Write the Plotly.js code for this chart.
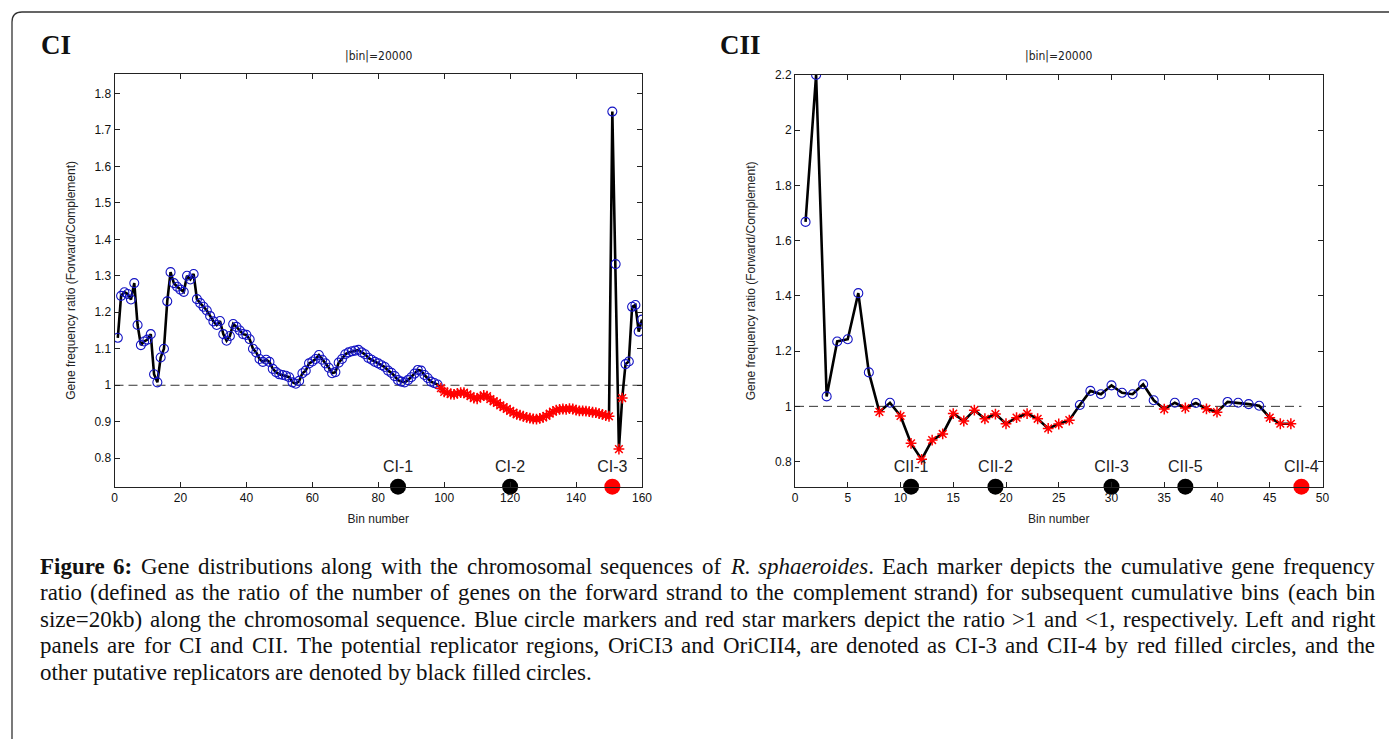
<!DOCTYPE html>
<html><head><meta charset="utf-8">
<script src="https://cdn.plot.ly/plotly-3.0.1.min.js"></script>
<style>html,body{margin:0;padding:0;background:#fff;}#chart{width:1389px;height:739px;}</style>
</head><body><div id="chart"></div>
<script>
// ---------------- DATA ----------------
// CI: cumulative gene frequency ratio per bin (bins 1..160)
const ciValues = [
 1.13, 1.245, 1.255, 1.25, 1.235, 1.28, 1.165, 1.11, 1.12, 1.125,
 1.14, 1.03, 1.008, 1.076, 1.10, 1.23, 1.31, 1.28, 1.27, 1.262,
 1.256, 1.30, 1.29, 1.305, 1.236, 1.225, 1.215, 1.205, 1.19, 1.175,
 1.165, 1.176, 1.14, 1.122, 1.135, 1.168, 1.16, 1.15, 1.14, 1.138,
 1.126, 1.10, 1.09, 1.072, 1.064, 1.07, 1.064, 1.045, 1.036, 1.03,
 1.028, 1.026, 1.022, 1.008, 1.004, 1.012, 1.033, 1.04, 1.06, 1.065,
 1.072, 1.083, 1.07, 1.06, 1.048, 1.033, 1.036, 1.062, 1.072, 1.085,
 1.09, 1.093, 1.095, 1.097, 1.09, 1.085, 1.075, 1.07, 1.064, 1.06,
 1.055, 1.05, 1.04, 1.034, 1.025, 1.014, 1.01, 1.008, 1.014, 1.022,
 1.032, 1.042, 1.04, 1.028, 1.02, 1.01, 1.006, 1.002, 0.992, 0.982,
 0.98, 0.976, 0.975, 0.978, 0.98, 0.98, 0.975, 0.97, 0.965, 0.963,
 0.968, 0.972, 0.97, 0.962, 0.956, 0.952, 0.945, 0.94, 0.935, 0.93,
 0.925, 0.92, 0.918, 0.915, 0.912, 0.91, 0.908, 0.907, 0.909, 0.912,
 0.916, 0.922, 0.928, 0.932, 0.934, 0.935, 0.934, 0.936, 0.935, 0.932,
 0.93, 0.93, 0.929, 0.928, 0.926, 0.925, 0.922, 0.92, 0.917, 0.915,
 1.75, 1.332, 0.825, 0.965, 1.058, 1.065, 1.215, 1.22, 1.147, 1.18
];
// CII: cumulative gene frequency ratio per bin (bins 1..47)
const ciiValues = [
 1.668, 2.2, 1.036, 1.235, 1.243, 1.41, 1.123, 0.98, 1.013, 0.965,
 0.866, 0.808, 0.878, 0.90, 0.974, 0.947, 0.986, 0.955, 0.972, 0.937,
 0.959, 0.974, 0.955, 0.92, 0.936, 0.95, 1.005, 1.056, 1.044, 1.076,
 1.049, 1.044, 1.08, 1.022, 0.99, 1.013, 0.994, 1.012, 0.991, 0.979,
 1.016, 1.013, 1.008, 1.002, 0.959, 0.937, 0.937
];
// putative replicators
const ciRepBins = [86, 120, 151];
const ciRepLabels = ['CI-1', 'CI-2', 'CI-3'];
const ciRepOri = [false, false, true];
const ciiRepBins = [11, 19, 30, 37, 48];
const ciiRepLabels = ['CII-1', 'CII-2', 'CII-3', 'CII-5', 'CII-4'];
const ciiRepOri = [false, false, false, false, true];
// tick labels
const ciXTicks = [0, 20, 40, 60, 80, 100, 120, 140, 160];
const ciYTicks = [0.8, 0.9, 1, 1.1, 1.2, 1.3, 1.4, 1.5, 1.6, 1.7, 1.8];
const ciYTickText = ['0.8', '0.9', '1', '1.1', '1.2', '1.3', '1.4', '1.5', '1.6', '1.7', '1.8'];
const ciiXTicks = [0, 5, 10, 15, 20, 25, 30, 35, 40, 45, 50];
const ciiYTicks = [0.8, 1, 1.2, 1.4, 1.6, 1.8, 2, 2.2];
const ciiYTickText = ['0.8', '1', '1.2', '1.4', '1.6', '1.8', '2', '2.2'];
// texts
const panelLabels = ['CI', 'CII'];
const binTitle = '|bin|=20000';
const xTitle = 'Bin number';
const yTitle = 'Gene frequency ratio (Forward/Complement)';
const captionLines = [
 '<b>Figure</b> <b>6:</b> Gene distributions along with the chromosomal sequences of <i>R.</i> <i>sphaeroides</i>. Each marker depicts the cumulative gene frequency',
 'ratio (defined as the ratio of the number of genes on the forward strand to the complement strand) for subsequent cumulative bins (each bin',
 'size=20kb) along the chromosomal sequence. Blue circle markers and red star markers depict the ratio >1 and <1, respectively. Left and right',
 'panels are for CI and CII. The potential replicator regions, OriCI3 and OriCII4, are denoted as CI-3 and CII-4 by red filled circles, and the',
 'other putative replicators are denoted by black filled circles.'
];

// ---------------- LAYOUT HELPERS ----------------
const W = 1389, H = 739;
const px = x => x / W;
const py = y => 1 - y / H;
const ciXRange = [0, 160], ciYRange = [0.722, 1.853];
const ciiXRange = [0, 50], ciiYRange = [0.709, 2.2];

const BLUE = '#1414c4', RED = '#ff0000';
const SANS = 'Liberation Sans, Arial, sans-serif';
const tickFont = {family: SANS, size: 12, color: '#111'};

function panelTraces(values, repBins, repLabels, repOri, dashEnd, yMin, xa, ya) {
  const bins = values.map((_, i) => i + 1);
  const blueX = [], blueY = [], redX = [], redY = [];
  values.forEach((v, i) => { if (v >= 1) { blueX.push(bins[i]); blueY.push(v); } else { redX.push(bins[i]); redY.push(v); } });
  return [
    {x: [0, dashEnd], y: [1, 1], mode: 'lines', line: {color: '#333', width: 1, dash: '9px,5px'}, xaxis: xa, yaxis: ya, hoverinfo: 'skip'},
    {x: bins, y: values, mode: 'lines', line: {color: '#000', width: 2.6}, xaxis: xa, yaxis: ya},
    {x: blueX, y: blueY, mode: 'markers', marker: {symbol: 'circle-open', size: 9, color: BLUE, line: {width: 1.1}}, xaxis: xa, yaxis: ya},
    {x: redX, y: redY, mode: 'markers', marker: {symbol: 'asterisk-open', size: 9, color: RED, line: {width: 1.5, color: RED}}, xaxis: xa, yaxis: ya},
    {x: repBins, y: repBins.map(() => yMin), mode: 'markers+text', text: repLabels, textposition: 'top center',
     textfont: {family: SANS, size: 16, color: '#222'},
     marker: {symbol: 'circle', size: 16, color: repOri.map(o => o ? RED : '#000')}, cliponaxis: false, xaxis: xa, yaxis: ya}
  ];
}

const data = [].concat(
  panelTraces(ciValues, ciRepBins, ciRepLabels, ciRepOri, 160, ciYRange[0], 'x', 'y'),
  panelTraces(ciiValues, ciiRepBins, ciiRepLabels, ciiRepOri, 48, ciiYRange[0], 'x2', 'y2')
);

function xAxis(domain, range, ticks) {
  return {domain, range, tickvals: ticks, ticktext: ticks.map(String), ticks: 'inside', ticklen: 5, tickcolor: '#222',
    mirror: 'ticks', showline: true, linecolor: '#222', linewidth: 1, showgrid: false, zeroline: false, tickfont: tickFont,
    title: {text: xTitle, font: {family: SANS, size: 12, color: '#222'}, standoff: 10}, fixedrange: true};
}
function yAxis(domain, range, ticks, text, anchor) {
  return {domain, range, tickvals: ticks, ticktext: text, ticks: 'inside', ticklen: 5, tickcolor: '#222', anchor,
    mirror: 'ticks', showline: true, linecolor: '#222', linewidth: 1, showgrid: false, zeroline: false, tickfont: tickFont,
    title: {text: yTitle, font: {family: SANS, size: 12, color: '#222'}, standoff: 16}, fixedrange: true};
}

const ciDom = [px(114.5), px(642)], ciiDom = [px(795), px(1322.5)];
const layout = {
  width: W, height: H, margin: {l: 0, r: 0, t: 0, b: 0}, showlegend: false,
  paper_bgcolor: '#fff', plot_bgcolor: '#fff',
  xaxis: Object.assign(xAxis(ciDom, ciXRange, ciXTicks), {anchor: 'y'}),
  yaxis: yAxis([py(486.7), py(74)], ciYRange, ciYTicks, ciYTickText, 'x'),
  xaxis2: Object.assign(xAxis(ciiDom, ciiXRange, ciiXTicks), {anchor: 'y2'}),
  yaxis2: yAxis([py(486.7), py(75)], ciiYRange, ciiYTicks, ciiYTickText, 'x2'),
  shapes: [{type: 'path', xref: 'paper', yref: 'paper', line: {color: '#333', width: 1.3},
    path: `M ${px(12)},${py(745)} L ${px(12)},${py(22)} Q ${px(12)},${py(12)} ${px(22)},${py(12)} L ${px(1395)},${py(12)}`}],
  annotations: []
};

// panel labels + bin titles
const SERIF = 'Liberation Serif, Times New Roman, serif';
layout.annotations.push(
  {xref: 'paper', yref: 'paper', x: px(39), y: py(45), xanchor: 'left', yanchor: 'middle', showarrow: false, text: '<b>' + panelLabels[0] + '</b>',
   font: {family: SERIF, size: 27, color: '#111'}},
  {xref: 'paper', yref: 'paper', x: px(718), y: py(45), xanchor: 'left', yanchor: 'middle', showarrow: false, text: '<b>' + panelLabels[1] + '</b>',
   font: {family: SERIF, size: 27, color: '#111'}},
  {xref: 'paper', yref: 'paper', x: (ciDom[0] + ciDom[1]) / 2, y: py(56), xanchor: 'center', yanchor: 'middle', showarrow: false, text: binTitle,
   font: {family: 'Liberation Sans Narrow, DejaVu Sans Condensed, Arial, sans-serif', size: 12, color: '#222'}},
  {xref: 'paper', yref: 'paper', x: (ciiDom[0] + ciiDom[1]) / 2, y: py(56), xanchor: 'center', yanchor: 'middle', showarrow: false, text: binTitle,
   font: {family: 'Liberation Sans Narrow, DejaVu Sans Condensed, Arial, sans-serif', size: 12, color: '#222'}}
);

// caption, justified word by word (words measured with an SVG text node, same engine as Plotly)
const svgNS = 'http://www.w3.org/2000/svg';
const msvg = document.createElementNS(svgNS, 'svg');
msvg.setAttribute('style', 'position:absolute;left:-5000px;top:0;width:10px;height:10px');
document.body.appendChild(msvg);
const mtext = document.createElementNS(svgNS, 'text');
msvg.appendChild(mtext);
function measure(word, size) {
  const t = word.replace(/<\/?[bi]>/g, '');
  mtext.setAttribute('style', 'font-family:' + SERIF + ';font-size:' + size + 'px;font-weight:' + (/<b>/.test(word) ? 'bold' : 'normal') +
    ';font-style:' + (/<i>/.test(word) ? 'italic' : 'normal') + ';white-space:pre');
  mtext.textContent = t;
  return mtext.getComputedTextLength();
}
const capLeft = 40, capRight = 1375;
function naturalWidth(line, size) {
  const ws = line.split(' ');
  return ws.reduce((s, w) => s + measure(w, size), 0) + (ws.length - 1) * measure('a a', size) + 0 - (ws.length - 1) * 2 * measure('a', size);
}
const refSize = 20;
let capSize = refSize * 552 / naturalWidth(captionLines[4], refSize);
captionLines.slice(0, 4).forEach(l => { capSize = Math.min(capSize, refSize * (capRight - capLeft - 10) / naturalWidth(l, refSize)); });
capSize = Math.max(16, Math.min(24, capSize));
const spaceW = measure('a a', capSize) - 2 * measure('a', capSize);
const capY = [566, 592.5, 619, 645.5, 672];
captionLines.forEach((line, li) => {
  const words = line.split(' ');
  const widths = words.map(w => measure(w, capSize));
  const total = widths.reduce((a, b) => a + b, 0);
  const justify = li < captionLines.length - 1;
  const gap = justify ? Math.max(spaceW, (capRight - capLeft - total) / (words.length - 1)) : spaceW;
  let x = capLeft;
  words.forEach((w, wi) => {
    layout.annotations.push({xref: 'paper', yref: 'paper', x: px(x), y: py(capY[li]), xanchor: 'left', yanchor: 'middle',
      showarrow: false, text: w, borderpad: 0, borderwidth: 0,
      font: {family: SERIF, size: capSize, color: '#111'}});
    x += widths[wi] + gap;
  });
});
msvg.remove();

Plotly.newPlot('chart', data, layout, {staticPlot: true, displayModeBar: false});
</script>
</body></html>
